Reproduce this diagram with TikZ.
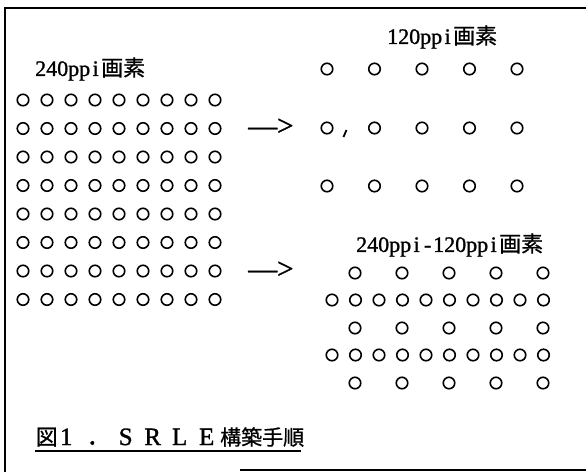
\documentclass[tikz,border=0pt]{standalone}
\usepackage{fontspec}
\setmainfont{Liberation Serif}[RawFeature={embolden=1.2}]
\newfontfamily\jp{Noto Sans CJK JP}[RawFeature={embolden=0.8}]
\newcommand\hw[1]{\makebox[11pt]{#1}}
\newcommand\lbl[2]{#1{\jp\fontsize{22}{22}\selectfont #2}}
\tikzset{
  dot/.style={circle,draw,line width=1.6pt,minimum size=11.5pt,inner sep=0pt},
  lab/.style={inner sep=0pt,font=\fontsize{22}{22}\selectfont},
  arr/.style={inner sep=0pt,font=\fontsize{29}{29}\selectfont},
  frame/.style={line width=2.6pt}
}
\begin{document}
\begin{tikzpicture}[x=1pt,y=-1pt]
\useasboundingbox (0,0) rectangle (586,472);
% frame
\coordinate (tl) at (5,8);
\coordinate (tr) at (586,8);
\coordinate (bl) at (5,472);
\coordinate (bs) at (240,470);
\coordinate (br) at (586,470);
\draw[frame] (tr) -- (tl) -- (bl);
\draw[frame] (bs) -- (br);
% labels
\node[lab,anchor=west] (l240) at (35,69) {\lbl{\hw{2}\hw{4}\hw{0}\hw{p}\hw{p}\hw{i}}{画素}};
\node[lab,anchor=west] (l120) at (387,37) {\lbl{\hw{1}\hw{2}\hw{0}\hw{p}\hw{p}\hw{i}}{画素}};
\node[lab,anchor=west] (ldiff) at (356,245) {\lbl{\hw{2}\hw{4}\hw{0}\hw{p}\hw{p}\hw{i}\hw{-}\hw{1}\hw{2}\hw{0}\hw{p}\hw{p}\hw{i}}{画素}};
% left grid 9x8
\foreach \r [count=\i] in {100,128.5,157,185.5,214,242.5,271,299.5}{
  \foreach \c in {1,...,9}{
    \node[dot] (L-\i-\c) at ({23+(\c-1)*24},\r) {};
  }
}
% arrows (glyphs)
\node[arr,anchor=west] (a1) at (248,127) {—>};
\node[arr,anchor=west] (a2) at (248,270) {—>};
% top right grid 5x3
\foreach \r [count=\i] in {69,128,186}{
  \foreach \c in {1,...,5}{
    \node[dot] (T-\i-\c) at ({327+(\c-1)*47.5},\r) {};
  }
}
\draw[line width=1.8pt] (343.5,137) -- (346.5,130);
% bottom right grid
\foreach \r [count=\i] in {273,328,383}{
  \foreach \c in {1,...,5}{
    \node[dot] (S-\i-\c) at ({355+(\c-1)*47},\r) {};
  }
}
\foreach \r [count=\i] in {300,355}{
  \foreach \c in {1,...,10}{
    \node[dot] (D-\i-\c) at ({332+(\c-1)*23.5},\r) {};
  }
}
% caption
\node[inner sep=0pt,anchor=west,font=\fontsize{25}{25}\selectfont] (cap) at (35,437)
 {\makebox[23pt]{\jp\fontsize{22}{22}\selectfont 図}\makebox[16pt]{1}\makebox[38pt][l]{\hspace{12pt}\jp ．}\makebox[27pt]{S}\makebox[27pt]{R}\makebox[27pt]{L}\makebox[27pt]{E}{\jp\fontsize{21}{21}\selectfont 構築手順}};
\coordinate (u1) at (35,451);
\coordinate (u2) at (301,451);
\draw[line width=1.4pt] (u1) -- (u2);
\end{tikzpicture}
\end{document}
